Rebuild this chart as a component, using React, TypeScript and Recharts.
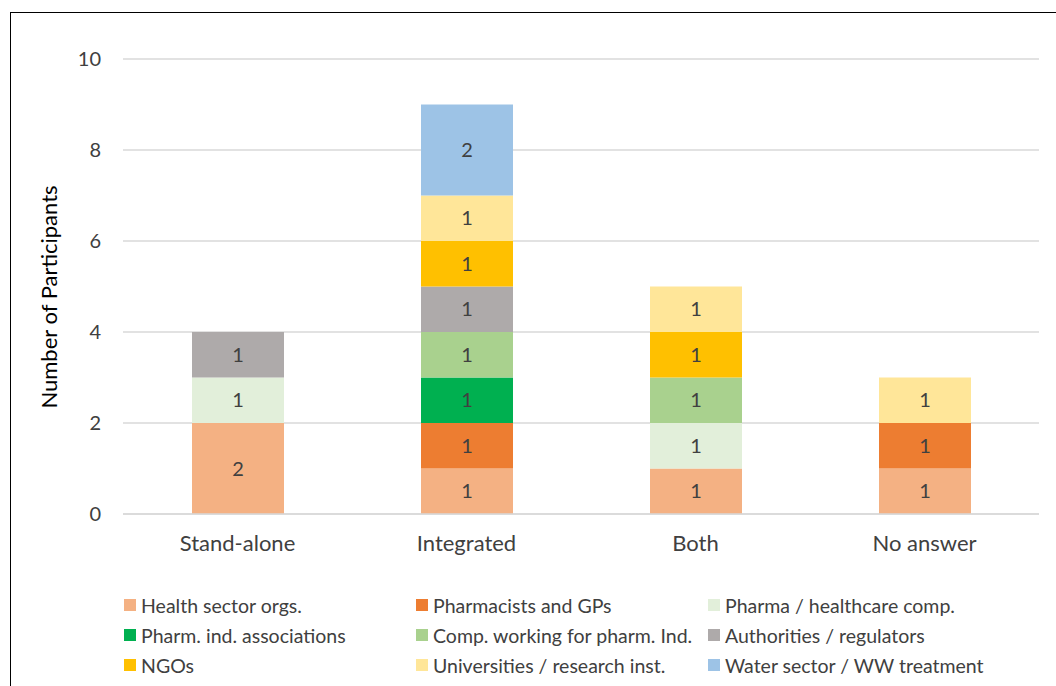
import React from 'react';
import { Bar, BarChart, CartesianGrid, LabelList, XAxis, YAxis } from 'recharts';

const categories = ['Stand-alone', 'Integrated', 'Both', 'No answer'];

const groups = [
  { key: 'health', name: 'Health sector orgs.', color: '#F4B183' },
  { key: 'pharmacists', name: 'Pharmacists and GPs', color: '#ED7D31' },
  { key: 'pharmaComp', name: 'Pharma / healthcare comp.', color: '#E2EFDA' },
  { key: 'assoc', name: 'Pharm. ind. associations', color: '#00B050' },
  { key: 'working', name: 'Comp. working for pharm. Ind.', color: '#A9D18E' },
  { key: 'authorities', name: 'Authorities / regulators', color: '#AEAAAA' },
  { key: 'ngos', name: 'NGOs', color: '#FFC000' },
  { key: 'universities', name: 'Universities / research inst.', color: '#FFE699' },
  { key: 'water', name: 'Water sector / WW treatment', color: '#9DC3E6' },
];

// counts per category, in the order of `categories`
const health = [2, 1, 1, 1];
const pharmacists = [0, 1, 0, 1];
const pharmaComp = [1, 0, 1, 0];
const assoc = [0, 1, 0, 0];
const working = [0, 1, 1, 0];
const authorities = [1, 1, 0, 0];
const ngos = [0, 1, 1, 0];
const universities = [0, 1, 1, 1];
const water = [0, 2, 0, 0];

const yTicks = [0, 2, 4, 6, 8, 10];

const series: Record<string, number[]> = {
  health, pharmacists, pharmaComp, assoc, working, authorities, ngos, universities, water,
};

const data = categories.map((name, i) => {
  const row: Record<string, string | number | null> = { name };
  groups.forEach((g) => {
    const v = series[g.key][i];
    row[g.key] = v > 0 ? v : null;
  });
  return row;
});

const FONT = 'Lato, "Open Sans", sans-serif';
const TEXT = '#404040';

export default function App() {
  return (
    <div
      style={{
        position: 'absolute',
        left: 0,
        top: 0,
        width: 1056,
        height: 686,
        overflow: 'hidden',
        background: '#fff',
        fontFamily: FONT,
      }}
    >
      <div
        style={{
          position: 'absolute',
          left: 10,
          top: 12,
          width: 1100,
          height: 760,
          border: '1.5px solid #000',
          boxSizing: 'border-box',
        }}
      />
      <BarChart
        width={1056}
        height={686}
        data={data}
        margin={{ top: 59, right: 17, left: 63, bottom: 132 }}
        style={{ position: 'absolute', left: 0, top: 0 }}
      >
        <CartesianGrid vertical={false} stroke="#D9D9D9" strokeWidth={1.5} />
        <XAxis
          dataKey="name"
          axisLine={{ stroke: '#D9D9D9', strokeWidth: 1.5 }}
          tickLine={false}
          tickSize={0}
          tickMargin={21}
          height={40}
          tick={{ fill: TEXT, fontSize: 22, fontFamily: FONT }}
        />
        <YAxis
          width={60}
          domain={[0, 10]}
          ticks={yTicks}
          axisLine={false}
          tickLine={false}
          tickSize={0}
          tickMargin={22}
          tick={{ fill: TEXT, fontSize: 20, fontFamily: FONT }}
          label={{
            content: () => (
              <text
                x={48}
                y={297}
                transform="rotate(-90 48 297)"
                textAnchor="middle"
                dominantBaseline="central"
                fill="#000"
                fontSize={22}
                fontFamily={FONT}
              >
                Number of Participants
              </text>
            ),
          }}
        />
        {groups.map((g) => (
          <Bar
            key={g.key}
            dataKey={g.key}
            name={g.name}
            stackId="a"
            fill={g.color}
            barSize={92}
            isAnimationActive={false}
          >
            <LabelList
              dataKey={g.key}
              position="center"
              fill={TEXT}
              fontSize={20}
              fontFamily={FONT}
            />
          </Bar>
        ))}
      </BarChart>
      {groups.map((g, i) => {
        const col = i % 3;
        const row = Math.floor(i / 3);
        return (
          <div
            key={g.key}
            style={{
              position: 'absolute',
              left: 124 + col * 292,
              top: 593 + row * 30,
              height: 24,
              display: 'flex',
              alignItems: 'center',
              fontSize: 19.5,
              color: TEXT,
              whiteSpace: 'nowrap',
            }}
          >
            <span
              style={{
                display: 'inline-block',
                width: 12,
                height: 12,
                background: g.color,
                marginRight: 5,
              }}
            />
            {g.name}
          </div>
        );
      })}
    </div>
  );
}
